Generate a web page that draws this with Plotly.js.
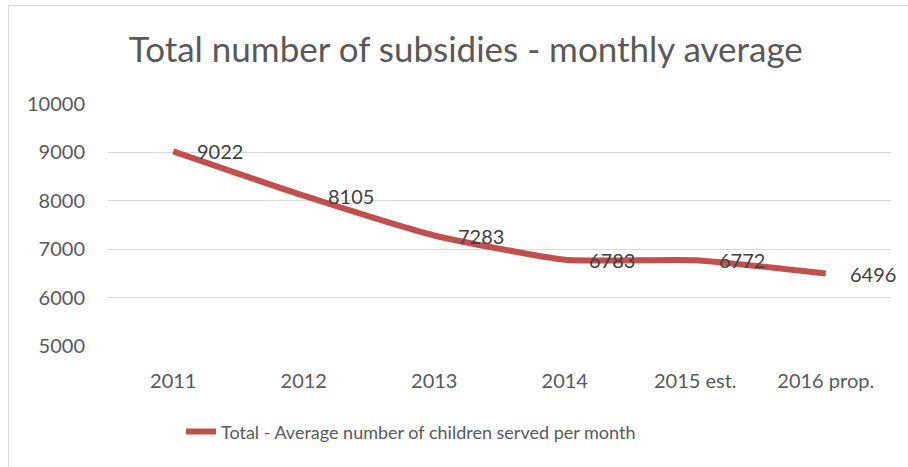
<!DOCTYPE html>
<html>
<head>
<meta charset="utf-8">
<script src="https://cdn.plot.ly/plotly-3.0.1.min.js"></script>
<style>
html,body{margin:0;padding:0;background:#fff;}
#wrap{position:relative;width:908px;height:467px;overflow:hidden;}
#frame{position:absolute;left:8px;top:5px;width:920px;height:480px;border:1px solid #d9d9d9;box-sizing:border-box;}
#chart{position:absolute;left:0;top:0;width:908px;height:467px;}
</style>
</head>
<body>
<div id="wrap"><div id="frame"></div><div id="chart"></div></div>
<script>
const categories = ["2011", "2012", "2013", "2014", "2015 est.", "2016 prop."];
const values = [9022, 8105, 7283, 6783, 6772, 6496];
const seriesName = "Total - Average number of children served per month";
const chartTitle = "Total number of subsidies - monthly average";
const yTicks = [5000, 6000, 7000, 8000, 9000, 10000];

const FONT = "Lato, 'Open Sans', sans-serif";
const trace = {
  x: categories,
  y: values,
  type: "scatter",
  mode: "lines",
  name: seriesName,
  line: {color: "#C0504D", width: 6, shape: "spline", smoothing: 0.5},
  hoverinfo: "none"
};

const annotations = categories.map((c, i) => ({
  x: i, y: values[i], xref: "x", yref: "y",
  text: String(values[i]), showarrow: false,
  xanchor: "left", yanchor: "middle", xshift: 22,
  font: {family: FONT, size: 20, color: "#404040"}
}));

const layout = {
  width: 908, height: 467,
  margin: {l: 108, r: 17, t: 104, b: 121},
  paper_bgcolor: "rgba(0,0,0,0)",
  plot_bgcolor: "rgba(0,0,0,0)",
  title: {text: chartTitle, x: 0.513, xanchor: "center", y: 0.893, yanchor: "middle",
          font: {family: FONT, size: 35, color: "#595959"}},
  xaxis: {type: "category", showgrid: false, zeroline: false, showline: false,
          ticks: "", ticklabelstandoff: 21, tickfont: {family: FONT, size: 20, color: "#595959"},
          range: [-0.5, categories.length - 0.5], fixedrange: true},
  yaxis: {range: [5000, 10000], tickvals: yTicks, ticktext: yTicks.map(String),
          showgrid: true, gridcolor: "#d9d9d9", gridwidth: 1.3, zeroline: false, showline: false,
          ticks: "", ticklabelstandoff: 22,
          tickfont: {family: FONT, size: 20, color: "#595959"}, fixedrange: true},
  showlegend: true,
  legend: {orientation: "h", x: 0.0932, xanchor: "left", y: -0.355, yanchor: "middle",
           font: {family: FONT, size: 18, color: "#595959"}},
  annotations: annotations
};

Plotly.newPlot("chart", [trace], layout, {displayModeBar: false, staticPlot: true});
</script>
</body>
</html>
